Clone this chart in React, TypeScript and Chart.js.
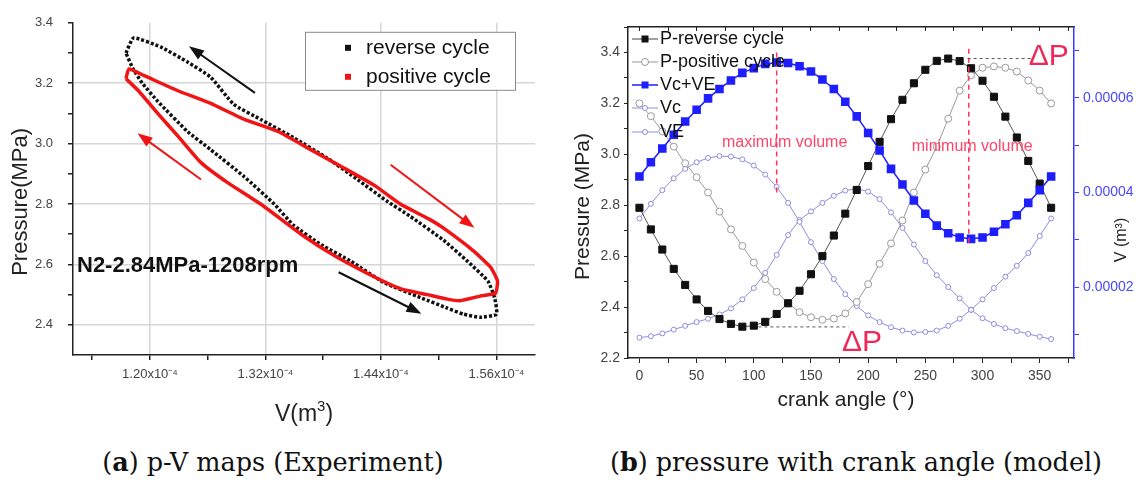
import { useEffect, useRef } from "react";
import { Chart, registerables } from "chart.js";

Chart.register(...registerables);

const SANS = "'Liberation Sans', Arial, Helvetica, sans-serif";
const SERIF = "'DejaVu Serif', serif";

// ---------- (a) p-V maps (Experiment): volume in 1e-4 m^3, pressure in MPa ----------
const reverseCycleV = [1.175, 1.183, 1.211, 1.239, 1.263, 1.287, 1.315, 1.349, 1.385, 1.416, 1.446, 1.47, 1.505, 1.53, 1.551, 1.558, 1.56, 1.543, 1.526, 1.509, 1.481, 1.443, 1.409, 1.378, 1.349, 1.329, 1.298, 1.263, 1.239, 1.208, 1.192, 1.182, 1.175];
const reverseCycleP = [3.3, 3.35, 3.32, 3.27, 3.22, 3.13, 3.08, 3.02, 2.95, 2.88, 2.81, 2.76, 2.68, 2.61, 2.545, 2.49, 2.435, 2.425, 2.435, 2.455, 2.49, 2.54, 2.61, 2.665, 2.73, 2.8, 2.89, 2.98, 3.04, 3.14, 3.2, 3.25, 3.3];
const positiveCycleV = [1.175, 1.178, 1.194, 1.229, 1.263, 1.298, 1.333, 1.367, 1.401, 1.434, 1.46, 1.49, 1.505, 1.536, 1.554, 1.561, 1.559, 1.543, 1.522, 1.509, 1.488, 1.46, 1.426, 1.391, 1.357, 1.315, 1.281, 1.253, 1.229, 1.208, 1.188, 1.175];
const positiveCycleP = [3.215, 3.247, 3.225, 3.175, 3.133, 3.08, 3.04, 2.98, 2.92, 2.86, 2.8, 2.75, 2.72, 2.645, 2.59, 2.545, 2.505, 2.495, 2.48, 2.485, 2.5, 2.52, 2.57, 2.63, 2.7, 2.8, 2.87, 2.937, 3.025, 3.1, 3.175, 3.215];
const pvVolumeTicks = [1.14, 1.2, 1.26, 1.32, 1.38, 1.44, 1.5, 1.56];
const pvVolumeLabelled = [1.2, 1.32, 1.44, 1.56];
const pvPressureTicks = [2.4, 2.5, 2.6, 2.7, 2.8, 2.9, 3.0, 3.1, 3.2, 3.3, 3.4];
const pvPressureLabelled = [2.4, 2.6, 2.8, 3.0, 3.2, 3.4];
const pvPressureGrid = [2.4, 2.6, 2.8, 3.0, 3.2];
const pvSeriesNames = ["reverse cycle", "positive cycle"];
const pvConditionText = "N2-2.84MPa-1208rpm";

// ---------- (b) pressure with crank angle (model): volume in 1e-5 m^3 ----------
const crankAngle = [0, 10, 20, 30, 40, 50, 60, 70, 80, 90, 100, 110, 120, 130, 140, 150, 160, 170, 180, 190, 200, 210, 220, 230, 240, 250, 260, 270, 280, 290, 300, 310, 320, 330, 340, 350, 360];
const pReverse = [2.79, 2.705, 2.626, 2.55, 2.487, 2.43, 2.385, 2.353, 2.334, 2.323, 2.327, 2.342, 2.373, 2.415, 2.464, 2.529, 2.6, 2.681, 2.767, 2.86, 2.954, 3.049, 3.138, 3.214, 3.279, 3.332, 3.367, 3.376, 3.366, 3.338, 3.289, 3.226, 3.148, 3.066, 2.974, 2.885, 2.79];
const pPositive = [3.2, 3.15, 3.09, 3.03, 2.965, 2.91, 2.85, 2.775, 2.705, 2.64, 2.575, 2.51, 2.46, 2.415, 2.38, 2.36, 2.35, 2.355, 2.375, 2.42, 2.49, 2.57, 2.65, 2.74, 2.85, 2.94, 3.03, 3.14, 3.25, 3.31, 3.34, 3.345, 3.34, 3.325, 3.29, 3.25, 3.2];
const vTotal = [4.34, 4.64, 4.93, 5.22, 5.5, 5.75, 5.99, 6.19, 6.37, 6.53, 6.63, 6.72, 6.75, 6.74, 6.67, 6.56, 6.39, 6.19, 5.92, 5.61, 5.26, 4.89, 4.5, 4.17, 3.83, 3.55, 3.3, 3.14, 3.05, 3.02, 3.05, 3.17, 3.33, 3.52, 3.78, 4.05, 4.34];
const vC = [3.45, 3.76, 4.05, 4.3, 4.5, 4.64, 4.73, 4.77, 4.76, 4.7, 4.57, 4.38, 4.12, 3.78, 3.38, 2.95, 2.55, 2.17, 1.85, 1.6, 1.4, 1.26, 1.15, 1.08, 1.04, 1.05, 1.08, 1.18, 1.33, 1.52, 1.74, 1.98, 2.22, 2.45, 2.72, 3.08, 3.45];
const vE = [0.93, 0.96, 1.02, 1.1, 1.18, 1.26, 1.33, 1.42, 1.55, 1.74, 1.98, 2.3, 2.68, 3.1, 3.42, 3.6, 3.78, 3.93, 4.04, 4.08, 4.02, 3.86, 3.58, 3.25, 2.9, 2.55, 2.25, 2.0, 1.76, 1.52, 1.34, 1.22, 1.13, 1.07, 1.01, 0.95, 0.9];
const crankTicks = [0, 25, 50, 75, 100, 125, 150, 175, 200, 225, 250, 275, 300, 325, 350, 375];
const crankLabelled = [0, 50, 100, 150, 200, 250, 300, 350];
const pressureTicks = [2.2, 2.3, 2.4, 2.5, 2.6, 2.7, 2.8, 2.9, 3.0, 3.1, 3.2, 3.3, 3.4, 3.5];
const pressureLabelled = [2.2, 2.4, 2.6, 2.8, 3.0, 3.2, 3.4];
const volumeTicks = [1, 2, 3, 4, 5, 6, 7];
const volumeLabelled = [2, 4, 6];
const modelSeriesNames = ["P-reverse cycle", "P-positive cycle", "Vc+VE", "Vc", "VE"];

const has = (arr: number[], v: number) => arr.some((a) => Math.abs(a - v) < 1e-6);

const RED = "#f01414";
const PINK = "#f0285a";
const BLUE = "#1e1eff";
const LIGHTBLUE = "#8c8ce0";
const GREY = "#9a9a9a";

function drawArrow(ctx: CanvasRenderingContext2D, x1: number, y1: number, x2: number, y2: number, color: string) {
  const ang = Math.atan2(y2 - y1, x2 - x1);
  const hl = 15;
  const hw = 5.5;
  const c = Math.cos(ang);
  const s = Math.sin(ang);
  ctx.strokeStyle = color;
  ctx.fillStyle = color;
  ctx.lineWidth = 2;
  ctx.beginPath();
  ctx.moveTo(x1, y1);
  ctx.lineTo(x2 - hl * 0.8 * c, y2 - hl * 0.8 * s);
  ctx.stroke();
  ctx.beginPath();
  ctx.moveTo(x2, y2);
  ctx.lineTo(x2 - hl * c + hw * s, y2 - hl * s - hw * c);
  ctx.lineTo(x2 - hl * c - hw * s, y2 - hl * s + hw * c);
  ctx.closePath();
  ctx.fill();
}

function rotatedText(ctx: CanvasRenderingContext2D, text: string, x: number, y: number, font: string, color: string) {
  ctx.save();
  ctx.translate(x, y);
  ctx.rotate(-Math.PI / 2);
  ctx.font = font;
  ctx.fillStyle = color;
  ctx.textAlign = "center";
  ctx.textBaseline = "middle";
  ctx.fillText(text, 0, 0);
  ctx.restore();
}

// arrows drawn in data units (V, P) on chart (a)
const pvArrows = [
  { from: [1.309, 3.168], to: [1.2405, 3.322], color: "#111" },
  { from: [1.253, 2.881], to: [1.187, 3.034], color: RED },
  { from: [1.45, 2.93], to: [1.537, 2.721], color: RED },
  { from: [1.396, 2.574], to: [1.482, 2.437], color: "#111" },
];

const pvPlugin = {
  id: "pvAnnotations",
  afterDatasetsDraw(chart: any) {
    const { ctx, chartArea: ca, scales } = chart;
    const xs = scales.x;
    const ys = scales.y;
    ctx.save();
    for (const a of pvArrows) {
      drawArrow(ctx, xs.getPixelForValue(a.from[0]), ys.getPixelForValue(a.from[1]), xs.getPixelForValue(a.to[0]), ys.getPixelForValue(a.to[1]), a.color);
    }
    // condition text
    ctx.font = `bold 22px ${SANS}`;
    ctx.fillStyle = "#111";
    ctx.textAlign = "left";
    ctx.textBaseline = "middle";
    ctx.fillText(pvConditionText, ca.left + 4, ys.getPixelForValue(2.594));

    // legend box
    const bx = ca.right - 230;
    const by = ca.top + 9;
    ctx.fillStyle = "#fff";
    ctx.fillRect(bx, by, 210, 58);
    ctx.strokeStyle = "#8a8a8a";
    ctx.lineWidth = 1;
    ctx.strokeRect(bx + 0.5, by + 0.5, 210, 58);
    const colors = ["#111", RED];
    ctx.font = `21px ${SANS}`;
    pvSeriesNames.forEach((name, i) => {
      const ry = by + 16 + i * 29;
      ctx.fillStyle = colors[i];
      ctx.fillRect(bx + 40, ry - 3, 6, 6);
      ctx.fillStyle = "#111";
      ctx.fillText(name, bx + 61, ry);
    });

    // axis titles
    rotatedText(ctx, "Pressure(MPa)", ca.left - 52, (ca.top + ca.bottom) / 2 + 13, `22px ${SANS}`, "#222");
    const cx = (ca.left + ca.right) / 2;
    const ty = ca.bottom + 60;
    ctx.fillStyle = "#222";
    ctx.font = `23px ${SANS}`;
    const w1 = ctx.measureText("V(m").width;
    ctx.font = `15px ${SANS}`;
    const w2 = ctx.measureText("3").width;
    ctx.font = `23px ${SANS}`;
    const w3 = ctx.measureText(")").width;
    const x0 = cx - (w1 + w2 + w3) / 2;
    ctx.fillText("V(m", x0, ty);
    ctx.font = `15px ${SANS}`;
    ctx.fillText("3", x0 + w1, ty - 8);
    ctx.font = `23px ${SANS}`;
    ctx.fillText(")", x0 + w1 + w2, ty);
    ctx.restore();
  },
};

const modelPlugin = {
  id: "modelAnnotations",
  afterDatasetsDraw(chart: any) {
    const { ctx, chartArea: ca, scales } = chart;
    const xs = scales.x;
    const ys = scales.y;
    const X = (v: number) => xs.getPixelForValue(v);
    const Y = (v: number) => ys.getPixelForValue(v);
    ctx.save();
    // texts
    ctx.textAlign = "center";
    ctx.textBaseline = "middle";
    ctx.fillStyle = "#ff4468";
    ctx.font = `16px ${SANS}`;
    ctx.fillText("maximum volume", X(127), Y(3.046));
    ctx.fillText("minimum volume", X(291), Y(3.03));
    // red dashed volume markers
    ctx.strokeStyle = "#ff3060";
    ctx.lineWidth = 1.5;
    ctx.setLineDash([5, 4]);
    ctx.beginPath();
    ctx.moveTo(X(120), Y(3.4));
    ctx.lineTo(X(120), Y(2.85));
    ctx.moveTo(X(288), Y(3.415));
    ctx.lineTo(X(288), Y(2.65));
    ctx.stroke();
    // ΔP reference lines
    ctx.strokeStyle = "#555";
    ctx.lineWidth = 1;
    ctx.setLineDash([3, 3]);
    ctx.beginPath();
    ctx.moveTo(X(104), Y(2.322));
    ctx.lineTo(X(183), Y(2.322));
    ctx.moveTo(X(287), Y(3.376));
    ctx.lineTo(X(343), Y(3.376));
    ctx.stroke();
    ctx.setLineDash([]);
    ctx.fillStyle = PINK;
    ctx.font = `30px ${SANS}`;
    ctx.fillText("ΔP", X(358), Y(3.382));
    ctx.fillText("ΔP", X(194.6), Y(2.259));

    // legend
    const lx = ca.left;
    const rows = [12, 35, 58, 81, 105];
    ctx.textAlign = "left";
    ctx.font = `18px ${SANS}`;
    modelSeriesNames.forEach((name, i) => {
      const ry = ca.top + rows[i];
      const lineC = ["#444", GREY, BLUE, LIGHTBLUE, LIGHTBLUE][i];
      ctx.strokeStyle = lineC;
      ctx.lineWidth = i === 2 ? 1.5 : 1;
      ctx.beginPath();
      ctx.moveTo(lx + 4, ry);
      ctx.lineTo(lx + 30, ry);
      ctx.stroke();
      const mx = lx + 17;
      if (i === 0 || i === 2) {
        ctx.fillStyle = i === 0 ? "#111" : BLUE;
        ctx.fillRect(mx - 3.5, ry - 3.5, 7, 7);
      } else {
        ctx.fillStyle = "#fff";
        ctx.strokeStyle = i === 1 ? GREY : LIGHTBLUE;
        ctx.beginPath();
        ctx.arc(mx, ry, i === 1 ? 3.5 : 2.5, 0, Math.PI * 2);
        ctx.fill();
        ctx.stroke();
      }
      ctx.fillStyle = "#111";
      ctx.fillText(name, lx + 32, ry);
    });

    // axis titles
    rotatedText(ctx, "Pressure (MPa)", ca.left - 45, (ca.top + ca.bottom) / 2 + 14, `21px ${SANS}`, "#222");
    rotatedText(ctx, "V (m³)", ca.right + 48, 240, `16px ${SANS}`, "#222");
    ctx.fillStyle = "#222";
    ctx.font = `21px ${SANS}`;
    ctx.textAlign = "center";
    ctx.fillText("crank angle (°)", (ca.left + ca.right) / 2 - 5, ca.bottom + 42);
    ctx.restore();
  },
};

export default function App() {
  const refA = useRef<HTMLCanvasElement>(null);
  const refB = useRef<HTMLCanvasElement>(null);

  useEffect(() => {
    const pts = (xs: number[], ys: number[]) => xs.map((x, i) => ({ x, y: ys[i] }));

    const chartA = new Chart(refA.current as HTMLCanvasElement, {
      type: "scatter",
      data: {
        datasets: [
          {
            label: pvSeriesNames[1],
            data: pts(positiveCycleV, positiveCycleP),
            showLine: true,
            borderColor: RED,
            borderWidth: 3.5,
            pointRadius: 0,
            tension: 0.15,
          },
          {
            label: pvSeriesNames[0],
            data: pts(reverseCycleV, reverseCycleP),
            showLine: true,
            borderColor: "#111",
            borderWidth: 3.5,
            borderDash: [3, 2],
            pointRadius: 0,
            tension: 0.15,
          },
        ],
      },
      options: {
        animation: false,
        responsive: false,
        layout: { padding: { top: 18, right: 25, left: 0, bottom: 0 } },
        plugins: { legend: { display: false }, tooltip: { enabled: false } },
        scales: {
          x: {
            type: "linear",
            min: 1.12,
            max: 1.6,
            afterBuildTicks: (s: any) => {
              s.ticks = pvVolumeTicks.map((value) => ({ value }));
            },
            afterFit: (s: any) => {
              s.height = 75;
            },
            ticks: {
              autoSkip: false,
              maxRotation: 0,
              padding: 7,
              color: "#444",
              font: { family: SANS, size: 13 },
              callback: (v: any) => (has(pvVolumeLabelled, Number(v)) ? `${Number(v).toFixed(2)}x10⁻⁴` : ""),
            },
            grid: {
              color: (c: any) => (c.tick && has(pvVolumeLabelled, c.tick.value) ? "#d6d6d6" : "rgba(0,0,0,0)"),
              lineWidth: 1.5,
              tickColor: "#222",
              tickLength: 5,
            },
            border: { color: "#222", width: 1.5 },
          },
          y: {
            type: "linear",
            min: 2.3,
            max: 3.4,
            afterBuildTicks: (s: any) => {
              s.ticks = pvPressureTicks.map((value) => ({ value }));
            },
            afterFit: (s: any) => {
              s.width = 73;
            },
            ticks: {
              autoSkip: false,
              padding: 15,
              color: "#444",
              font: { family: SANS, size: 13 },
              callback: (v: any) => (has(pvPressureLabelled, Number(v)) ? Number(v).toFixed(1) : ""),
            },
            grid: {
              color: (c: any) => (c.tick && has(pvPressureGrid, c.tick.value) ? "#d6d6d6" : "rgba(0,0,0,0)"),
              lineWidth: 1.5,
              tickColor: "#222",
              tickLength: 5,
            },
            border: { color: "#222", width: 1.5 },
          },
        },
      } as any,
      plugins: [pvPlugin],
    });

    const chartB = new Chart(refB.current as HTMLCanvasElement, {
      type: "scatter",
      data: {
        datasets: [
          {
            label: modelSeriesNames[2],
            data: pts(crankAngle, vTotal),
            yAxisID: "y1",
            showLine: true,
            borderColor: BLUE,
            borderWidth: 1.5,
            pointStyle: "rect",
            pointRadius: 5,
            pointBackgroundColor: BLUE,
            pointBorderColor: BLUE,
          },
          {
            label: modelSeriesNames[0],
            data: pts(crankAngle, pReverse),
            showLine: true,
            borderColor: "#555",
            borderWidth: 1,
            pointStyle: "rect",
            pointRadius: 5,
            pointBackgroundColor: "#111",
            pointBorderColor: "#111",
          },
          {
            label: modelSeriesNames[1],
            data: pts(crankAngle, pPositive),
            showLine: true,
            borderColor: GREY,
            borderWidth: 1,
            pointStyle: "circle",
            pointRadius: 3.5,
            pointBackgroundColor: "#fff",
            pointBorderColor: GREY,
            pointBorderWidth: 1,
          },
          {
            label: modelSeriesNames[3],
            data: pts(crankAngle, vC),
            yAxisID: "y1",
            showLine: true,
            borderColor: LIGHTBLUE,
            borderWidth: 1,
            pointStyle: "circle",
            pointRadius: 2.5,
            pointBackgroundColor: "#fff",
            pointBorderColor: LIGHTBLUE,
            pointBorderWidth: 1,
          },
          {
            label: modelSeriesNames[4],
            data: pts(crankAngle, vE),
            yAxisID: "y1",
            showLine: true,
            borderColor: LIGHTBLUE,
            borderWidth: 1,
            pointStyle: "circle",
            pointRadius: 2.5,
            pointBackgroundColor: "#fff",
            pointBorderColor: LIGHTBLUE,
            pointBorderWidth: 1,
          },
        ],
      },
      options: {
        animation: false,
        responsive: false,
        layout: { padding: 0 },
        plugins: { legend: { display: false }, tooltip: { enabled: false } },
        scales: {
          x: {
            type: "linear",
            position: "bottom",
            min: -10,
            max: 380,
            afterBuildTicks: (s: any) => {
              s.ticks = crankTicks.map((value) => ({ value }));
            },
            afterFit: (s: any) => {
              s.height = 72;
            },
            ticks: {
              autoSkip: false,
              maxRotation: 0,
              padding: 5,
              color: "#444",
              font: { family: SANS, size: 14 },
              callback: (v: any) => (has(crankLabelled, Number(v)) ? String(v) : ""),
            },
            grid: { drawOnChartArea: false, tickColor: "#222", tickLength: 5 },
            border: { color: "#222", width: 1.5 },
          },
          x2: {
            type: "linear",
            position: "top",
            min: -10,
            max: 380,
            afterBuildTicks: (s: any) => {
              s.ticks = crankTicks.map((value) => ({ value }));
            },
            afterFit: (s: any) => {
              s.height = 27;
            },
            ticks: { display: false },
            grid: { drawOnChartArea: false, tickColor: "#222", tickLength: -4 },
            border: { color: "#222", width: 1.5 },
          },
          y: {
            type: "linear",
            position: "left",
            min: 2.2,
            max: 3.5,
            afterBuildTicks: (s: any) => {
              s.ticks = pressureTicks.map((value) => ({ value }));
            },
            afterFit: (s: any) => {
              s.width = 58;
            },
            ticks: {
              autoSkip: false,
              padding: 4,
              color: "#444",
              font: { family: SANS, size: 14 },
              callback: (v: any) => (has(pressureLabelled, Number(v)) ? Number(v).toFixed(1) : ""),
            },
            grid: { drawOnChartArea: false, tickColor: "#222", tickLength: 4 },
            border: { color: "#222", width: 1.5 },
          },
          y1: {
            type: "linear",
            position: "right",
            min: 0.5,
            max: 7.5,
            afterBuildTicks: (s: any) => {
              s.ticks = volumeTicks.map((value) => ({ value }));
            },
            afterFit: (s: any) => {
              s.width = 65;
            },
            ticks: {
              autoSkip: false,
              padding: 4,
              color: "#4848ff",
              font: { family: SANS, size: 14 },
              callback: (v: any) => (has(volumeLabelled, Number(v)) ? (Number(v) / 100000).toFixed(5) : ""),
            },
            grid: { drawOnChartArea: false, tickColor: "#3a3aff", tickLength: 5 },
            border: { color: "#3a3aff", width: 1.5 },
          },
        },
      } as any,
      plugins: [modelPlugin],
    });

    return () => {
      chartA.destroy();
      chartB.destroy();
    };
  }, []);

  const captionStyle: any = {
    position: "absolute",
    top: 446,
    width: 520,
    textAlign: "center",
    fontFamily: SERIF,
    fontSize: "25.5px",
    lineHeight: "32px",
    color: "#111",
    whiteSpace: "nowrap",
  };

  return (
    <div style={{ position: "absolute", left: 0, top: 0, width: 1139, height: 483, background: "#fff", overflow: "hidden" }}>
      <canvas ref={refA} width={560} height={430} style={{ position: "absolute", left: 0, top: 0, width: 560, height: 430 }} />
      <canvas ref={refB} width={569} height={430} style={{ position: "absolute", left: 570, top: 0, width: 569, height: 430 }} />
      <div style={{ ...captionStyle, left: 273 - 260 }}>
        (<b>a</b>) p-V maps (Experiment)
      </div>
      <div style={{ ...captionStyle, left: 856 - 260 }}>
        (<b>b</b>) pressure with crank angle (model)
      </div>
    </div>
  );
}
